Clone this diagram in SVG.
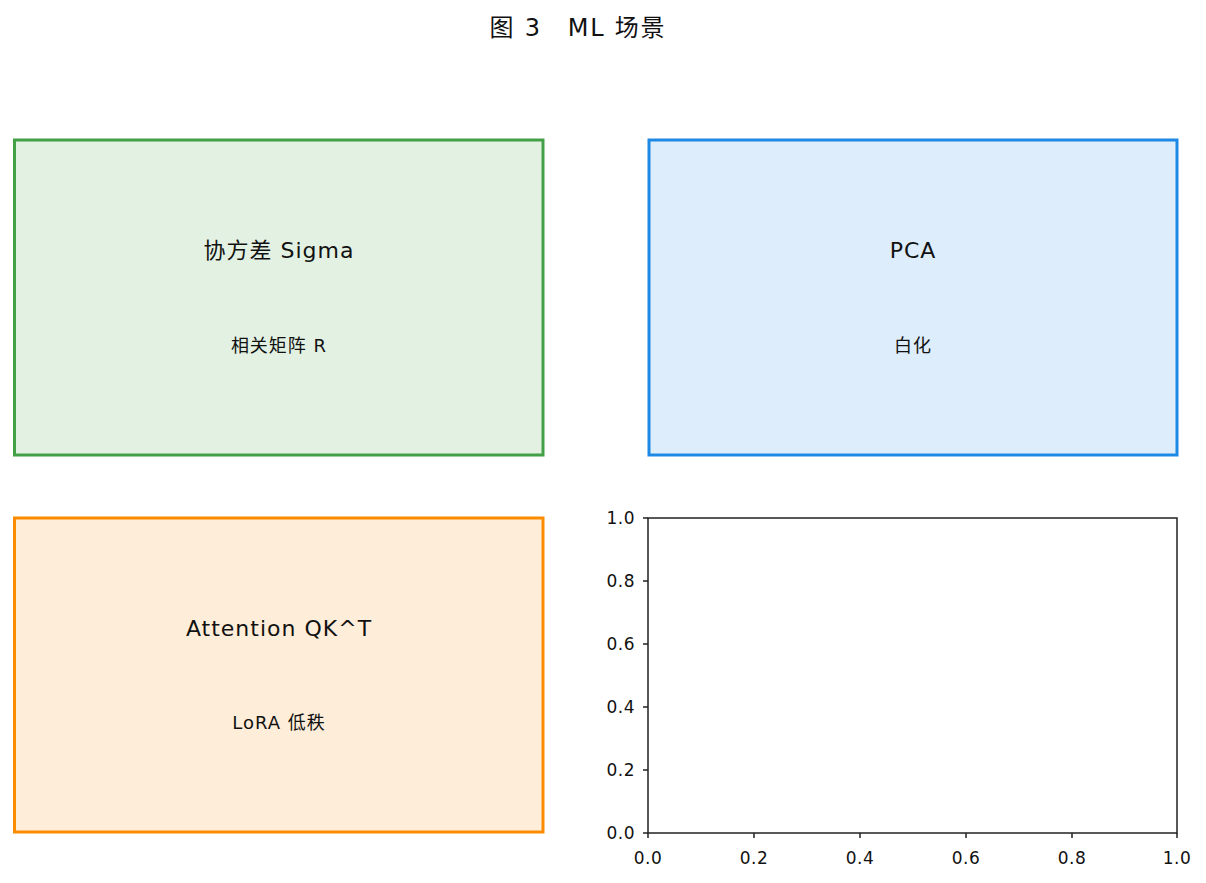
<svg xmlns="http://www.w3.org/2000/svg" width="1206" height="883" viewBox="0 0 1206 883">
<style>
text{font-family:"DejaVu Sans","Noto Sans CJK SC",sans-serif;fill:#111;text-anchor:middle}
.t1{font-size:22px;letter-spacing:1px}
.t2{font-size:18px;letter-spacing:1px}
.tick{font-size:17px;letter-spacing:0.5px}
.box{stroke-width:3}
.ax{stroke:#222;stroke-width:1.5;fill:none}
</style>
<rect width="1206" height="883" fill="#fff"/>
<text x="578" y="36" style="font-size:24px;letter-spacing:1.8px">图 3　ML 场景</text>
<g id="node-cov">
<rect class="box" x="14.5" y="140" width="528.5" height="315" fill="#e3f1e3" stroke="#43a047"/>
<text class="t1" x="279" y="258">协方差 Sigma</text>
<text class="t2" x="279" y="352">相关矩阵 R</text>
</g>
<g id="node-pca">
<rect class="box" x="649" y="140" width="528" height="315" fill="#ddedfb" stroke="#1e88e5"/>
<text class="t1" x="913" y="258">PCA</text>
<text class="t2" x="913" y="352">白化</text>
</g>
<g id="node-attn">
<rect class="box" x="14.5" y="518" width="528.5" height="314" fill="#feeed9" stroke="#fb8c00"/>
<text class="t1" x="279" y="636">Attention QK^T</text>
<text class="t2" x="279" y="729">LoRA 低秩</text>
</g>
<g id="axes">
<rect class="ax" x="648" y="518" width="529" height="315"/>
<g class="ax">
<line x1="643" y1="518" x2="648" y2="518"/>
<line x1="643" y1="581" x2="648" y2="581"/>
<line x1="643" y1="644" x2="648" y2="644"/>
<line x1="643" y1="707" x2="648" y2="707"/>
<line x1="643" y1="770" x2="648" y2="770"/>
<line x1="643" y1="833" x2="648" y2="833"/>
<line x1="648" y1="833" x2="648" y2="838"/>
<line x1="754" y1="833" x2="754" y2="838"/>
<line x1="860" y1="833" x2="860" y2="838"/>
<line x1="966" y1="833" x2="966" y2="838"/>
<line x1="1072" y1="833" x2="1072" y2="838"/>
<line x1="1177" y1="833" x2="1177" y2="838"/>
</g>
<g class="tick">
<text x="635" y="524" style="text-anchor:end">1.0</text>
<text x="635" y="587" style="text-anchor:end">0.8</text>
<text x="635" y="650" style="text-anchor:end">0.6</text>
<text x="635" y="713" style="text-anchor:end">0.4</text>
<text x="635" y="776" style="text-anchor:end">0.2</text>
<text x="635" y="839" style="text-anchor:end">0.0</text>
</g>
<g class="tick">
<text x="648" y="864">0.0</text>
<text x="754" y="864">0.2</text>
<text x="860" y="864">0.4</text>
<text x="966" y="864">0.6</text>
<text x="1072" y="864">0.8</text>
<text x="1177" y="864">1.0</text>
</g>
</g>
<g id="connectors"></g>
</svg>
